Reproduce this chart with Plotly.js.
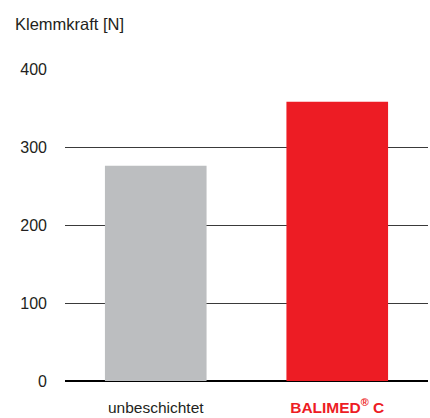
<!DOCTYPE html>
<html>
<head>
<meta charset="utf-8">
<script src="https://cdn.plot.ly/plotly-3.0.1.min.js"></script>
<style>html,body{margin:0;padding:0;background:#fff;}#chart{width:430px;height:418px;}</style>
</head>
<body>
<div id="chart"></div>
<script>
const categories = ['unbeschichtet', 'BALIMED® C'];
const tickLabels = ['unbeschichtet', '<b>BALIMED<sup>®</sup> C</b>'];
const values = [276, 358];
const barColors = ['#bcbec0', '#ed1c24'];
const yTicks = [0, 100, 200, 300, 400];

const data = [{
  type: 'bar',
  x: categories,
  y: values,
  marker: {color: barColors, line: {width: 0}},
  hoverinfo: 'none'
}];

const layout = {
  width: 430, height: 418,
  margin: {l: 65, r: 2, t: 69, b: 37, pad: 0},
  paper_bgcolor: '#fff', plot_bgcolor: '#fff',
  bargap: 0.44,
  showlegend: false,
  font: {family: 'Liberation Sans, Arial, sans-serif', color: '#231f20', size: 16},
  title: {
    text: 'Klemmkraft [N]',
    font: {size: 16.5, color: '#231f20'},
    xref: 'container', yref: 'container',
    x: 15/430, xanchor: 'left',
    y: 1 - 24/418, yanchor: 'middle'
  },
  xaxis: {
    type: 'category',
    tickvals: categories,
    ticktext: tickLabels,
    showgrid: false, zeroline: false, showline: false,
    ticks: '', ticklabelstandoff: 15,
    tickfont: {size: 15.5, color: '#231f20'}
  },
  yaxis: {
    range: [0, 400],
    tickvals: yTicks,
    ticktext: yTicks.map(String),
    showgrid: true, gridcolor: '#3a3a3a', gridwidth: 1,
    zeroline: true, zerolinecolor: '#000', zerolinewidth: 2.5,
    showline: false, ticks: '', ticklabelstandoff: 17,
    tickfont: {size: 16, color: '#231f20'}
  }
};

Plotly.newPlot('chart', data, layout, {staticPlot: true}).then(() => {
  const t = document.querySelectorAll('.xtick text');
  if (t[1]) t[1].style.fill = '#ed1c24';
});
</script>
</body>
</html>
